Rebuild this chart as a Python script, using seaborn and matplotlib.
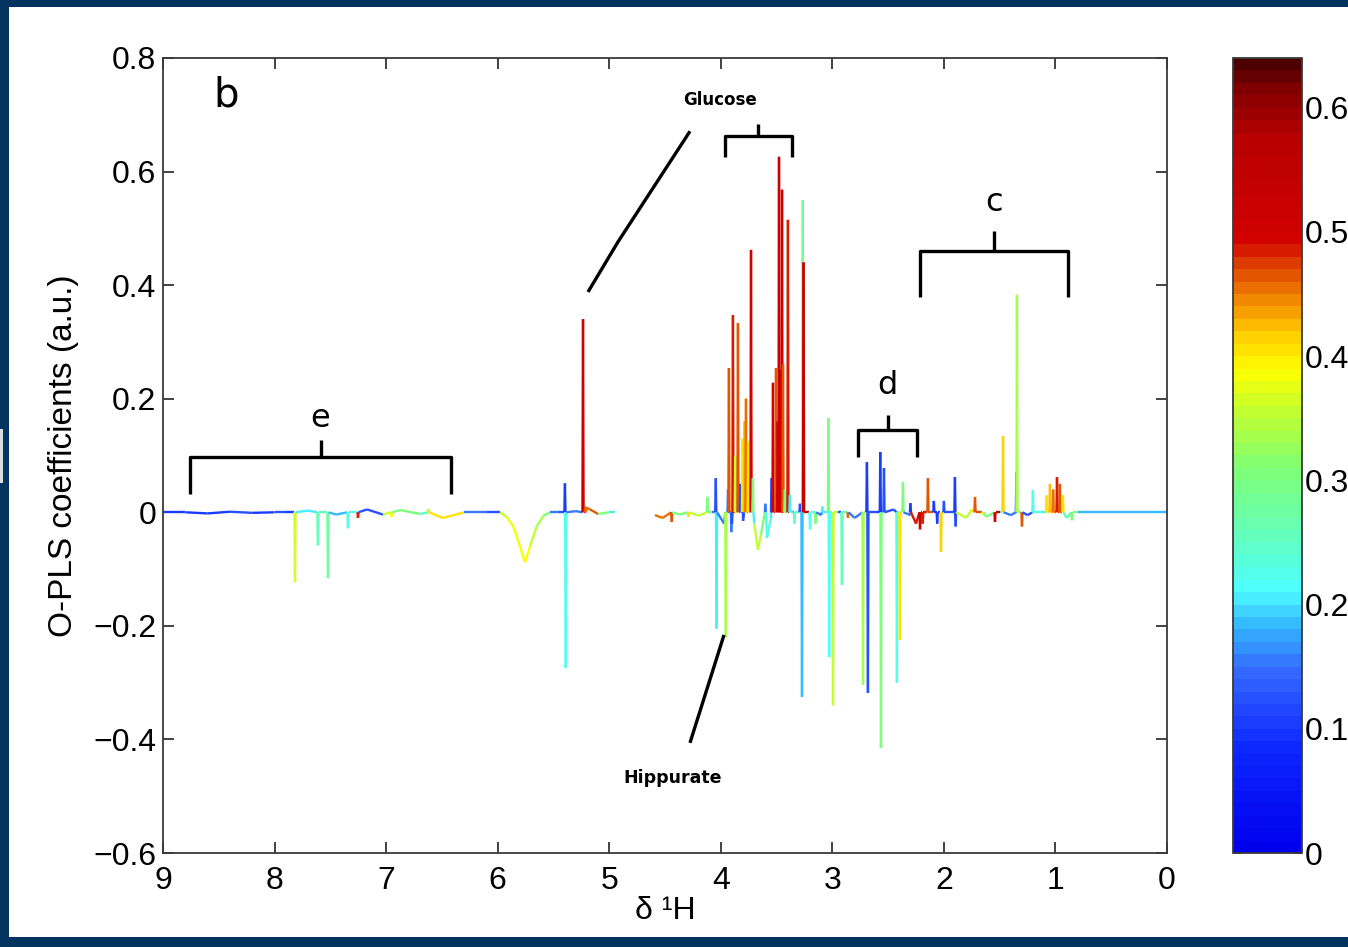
import numpy as np
import matplotlib.pyplot as plt
import seaborn as sns
from matplotlib.collections import LineCollection
from matplotlib.colors import LinearSegmentedColormap, ListedColormap, Normalize
from matplotlib.patches import Rectangle
import matplotlib.cm as cm

sns.set_theme(style="ticks")
plt.rcParams['font.family'] = ['Liberation Sans', 'DejaVu Sans']
plt.rcParams['axes.unicode_minus'] = True
for k in ['text.color', 'axes.labelcolor', 'xtick.color', 'ytick.color']:
    plt.rcParams[k] = 'black'

# spectral windows that were kept (water region cut out)
region_hi = [9.0, 4.59]
region_lo = [4.95, 0.0]

# baseline and broad features: ppm, coefficient, colour value (r2)
base_ppm = [9.00, 8.80, 8.60, 8.40, 8.20, 8.00, 7.90, 7.70, 7.45, 7.171, 7.028, 6.876, 6.70, 6.49,
            6.30, 6.10, 5.98, 5.92, 5.86, 5.80, 5.755, 5.71, 5.65, 5.59, 5.53, 5.45, 5.30, 5.20,
            5.172, 5.10, 5.00, 4.95,
            4.59, 4.52, 4.37, 4.20, 4.08, 3.97, 3.90, 3.80, 3.70, 3.667, 3.64, 3.586, 3.55,
            3.496, 3.35, 3.10, 2.95, 2.80, 2.60, 2.45, 2.30, 2.25, 2.10, 1.95, 1.80, 1.75, 1.62,
            1.50, 1.40, 1.25, 1.12, 0.90, 0.80, 0.50, 0.00]
base_coef = [0.000, 0.000, -0.002, 0.001, -0.001, 0.000, 0.000, 0.003, -0.004, 0.005, -0.004, 0.004,
             -0.003, -0.010, 0.000, 0.000, 0.000, -0.008, -0.025, -0.060, -0.088, -0.060, -0.025,
             -0.006, 0.000, 0.000, 0.002, 0.008, 0.005, -0.003, 0.000, 0.000,
             -0.005, -0.010, -0.004, -0.006, 0.000, -0.020, -0.020, -0.015, -0.020, -0.066,
             -0.040, -0.045, -0.010, 0.000, 0.000, -0.005, 0.000, -0.010, 0.000, 0.005, -0.005,
             -0.020, 0.000, 0.000, -0.010, 0.005, -0.008, 0.000, -0.005, -0.005, 0.000, -0.010,
             0.000, 0.000, 0.000]
base_r2 = [0.10, 0.12, 0.10, 0.12, 0.10, 0.12, 0.10, 0.20, 0.18, 0.12, 0.35, 0.30, 0.25, 0.40,
           0.15, 0.12, 0.30, 0.35, 0.37, 0.38, 0.38, 0.35, 0.33, 0.30, 0.15, 0.12, 0.15, 0.45,
           0.46, 0.30, 0.20, 0.20,
           0.35, 0.45, 0.30, 0.35, 0.15, 0.15, 0.12, 0.12, 0.20, 0.35, 0.30, 0.22, 0.20,
           0.15, 0.15, 0.15, 0.12, 0.15, 0.10, 0.12, 0.15, 0.48, 0.12, 0.12, 0.35, 0.40, 0.30,
           0.20, 0.15, 0.12, 0.20, 0.25, 0.18, 0.18, 0.18]

# narrow resonances: ppm, coefficient, colour value (r2)
peak_ppm = [7.817, 7.611, 7.521, 7.342, 7.252, 6.95, 6.62, 5.397, 5.390, 5.235, 5.215,
            4.44, 4.29, 4.12, 4.045, 4.038, 3.955, 3.935, 3.927, 3.905, 3.891, 3.870, 3.846,
            3.825, 3.805, 3.786, 3.774, 3.755, 3.729, 3.712, 3.60, 3.545, 3.532, 3.505, 3.490,
            3.478, 3.462, 3.451, 3.442, 3.425, 3.398, 3.380, 3.340, 3.290, 3.272, 3.265, 3.258,
            3.20, 3.15, 3.090, 3.035, 3.028, 2.994, 2.914, 2.860, 2.725, 2.690, 2.681, 2.570,
            2.564, 2.537, 2.421, 2.394, 2.367, 2.300, 2.214, 2.190, 2.143, 2.090, 2.060, 2.026,
            2.000, 1.901, 1.895, 1.721, 1.650, 1.542, 1.470, 1.350, 1.345, 1.300, 1.202, 1.080,
            1.049, 1.020, 0.986, 0.960, 0.933, 0.852]
peak_coef = [-0.123, -0.058, -0.116, -0.028, -0.010, -0.008, 0.006, 0.051, -0.274, 0.340, 0.010,
             -0.017, -0.008, 0.027, 0.060, -0.205, -0.220, 0.040, 0.254, -0.035, 0.347, 0.100,
             0.333, 0.050, 0.130, 0.160, 0.200, 0.125, 0.462, 0.060, 0.015, 0.060, 0.228, 0.254,
             0.160, 0.626, 0.250, 0.568, 0.260, 0.040, 0.515, 0.030, -0.020, 0.015, -0.325, 0.550,
             0.440, -0.030, -0.020, 0.010, 0.166, -0.255, -0.340, -0.128, -0.010, -0.304, 0.088,
             -0.318, 0.106, -0.415, 0.078, -0.300, -0.225, 0.053, 0.016, -0.030, -0.020, 0.060,
             0.020, -0.020, -0.070, 0.020, 0.062, -0.025, 0.027, -0.005, -0.017, 0.134, 0.070,
             0.383, -0.025, 0.039, 0.030, 0.050, 0.040, 0.062, 0.050, 0.030, -0.014]
peak_r2 = [0.36, 0.25, 0.27, 0.22, 0.48, 0.38, 0.35, 0.10, 0.22, 0.50, 0.46,
           0.47, 0.40, 0.30, 0.12, 0.20, 0.33, 0.15, 0.46, 0.15, 0.48, 0.35, 0.47,
           0.12, 0.40, 0.42, 0.45, 0.40, 0.49, 0.30, 0.15, 0.12, 0.49, 0.46, 0.49,
           0.51, 0.49, 0.50, 0.46, 0.30, 0.48, 0.20, 0.25, 0.12, 0.18, 0.29, 0.52,
           0.22, 0.30, 0.20, 0.30, 0.21, 0.35, 0.25, 0.45, 0.33, 0.10, 0.12, 0.10,
           0.30, 0.12, 0.22, 0.40, 0.30, 0.10, 0.50, 0.48, 0.46, 0.10, 0.10, 0.41,
           0.12, 0.10, 0.12, 0.46, 0.38, 0.50, 0.41, 0.12, 0.33, 0.47, 0.22, 0.40,
           0.42, 0.45, 0.48, 0.46, 0.40, 0.30]

x_ticks = [9, 8, 7, 6, 5, 4, 3, 2, 1, 0]
y_ticks = [-0.6, -0.4, -0.2, 0.0, 0.2, 0.4, 0.6, 0.8]
cbar_ticks = [0, 0.1, 0.2, 0.3, 0.4, 0.5, 0.6]
r2_max = 0.64

# colour scale as seen on the colour bar (value, colour)
cscale = [(0.00, (0.00, 0.00, 0.93)), (0.08, (0.05, 0.15, 1.00)), (0.14, (0.20, 0.40, 1.00)),
          (0.18, (0.20, 0.70, 1.00)), (0.21, (0.30, 1.00, 1.00)), (0.26, (0.40, 1.00, 0.70)),
          (0.31, (0.50, 1.00, 0.45)), (0.355, (0.75, 1.00, 0.20)), (0.39, (1.00, 1.00, 0.00)),
          (0.42, (1.00, 0.80, 0.00)), (0.445, (0.95, 0.55, 0.00)), (0.47, (0.88, 0.30, 0.00)),
          (0.50, (0.82, 0.00, 0.00)), (0.58, (0.72, 0.00, 0.00)), (0.62, (0.50, 0.00, 0.00)),
          (0.64, (0.30, 0.00, 0.00))]


def fmt(v):
    if abs(v) < 1e-9:
        return '0'
    s = ('%.1f' % v).lstrip('-')
    return ('\u2212' + s) if v < 0 else s


def build_trace(hi, lo, half_w=0.005):
    events = []
    for p, c, r in zip(base_ppm, base_coef, base_r2):
        if lo <= p <= hi:
            events.append((p, [(p, c, r)]))
    for p, c, r in zip(peak_ppm, peak_coef, peak_r2):
        if lo <= p <= hi:
            events.append((p, [(p + half_w, 0.0, r), (p, c, r), (p - half_w, 0.0, r)]))
    events.sort(key=lambda e: -e[0])
    return np.array([q for _, grp in events for q in grp])


fig = plt.figure(figsize=(13.48, 9.47), dpi=100, facecolor='#03335f')
fig.patches.append(Rectangle((9 / 1348, 10 / 947), 1, 930 / 947, transform=fig.transFigure,
                             facecolor='white', edgecolor='none', zorder=-1))
fig.patches.append(Rectangle((0, 464 / 947), 3 / 1348, 54 / 947, transform=fig.transFigure,
                             facecolor='#d8dde4', edgecolor='none', zorder=-1))

ax = fig.add_axes([163 / 1348, 94 / 947, 1004 / 1348, 795 / 947])
cax = fig.add_axes([1233 / 1348, 94 / 947, 69 / 1348, 795 / 947])
ax.set_facecolor('white')

smooth = LinearSegmentedColormap.from_list('r2', [(v / r2_max, c) for v, c in cscale])
cmap = ListedColormap(sns.color_palette(smooth(np.linspace(0, 1, 64))))
norm = Normalize(0, r2_max)

segs, vals = [], []
for hi, lo in zip(region_hi, region_lo):
    tr = build_trace(hi, lo)
    for a, b in zip(tr[:-1], tr[1:]):
        segs.append([(a[0], a[1]), (b[0], b[1])])
        vals.append(a[2] if abs(a[1]) >= abs(b[1]) else b[2])
lc = LineCollection(segs, cmap=cmap, norm=norm, linewidths=1.7)
lc.set_array(np.array(vals))
ax.add_collection(lc)

ax.set_xlim(9, 0)
ax.set_ylim(-0.6, 0.8)
ax.set_xticks(x_ticks)
ax.set_xticklabels([str(t) for t in x_ticks])
ax.set_yticks(y_ticks)
ax.set_yticklabels([fmt(t) for t in y_ticks])
ax.tick_params(axis='both', which='both', direction='in', length=8, width=1.2, color='#222222',
               top=True, right=True, labelsize=23)
ax.tick_params(axis='x', pad=9)
ax.tick_params(axis='y', pad=5)
for s in ax.spines.values():
    s.set_color('#3a3a3a')
    s.set_linewidth(1.3)
ax.set_xlabel('\u03b4 \u00b9H', fontsize=23, labelpad=0)
ax.set_ylabel('O-PLS coefficients (a.u.)', fontsize=24, labelpad=10)

# colour bar
cb = fig.colorbar(cm.ScalarMappable(norm=norm, cmap=cmap), cax=cax)
cb.set_ticks(cbar_ticks)
cb.set_ticklabels([fmt(t) for t in cbar_ticks])
cax.tick_params(direction='in', length=6, width=1.2, color='#222222', left=True, right=True,
                labelsize=23, pad=2)
cb.outline.set_edgecolor('#3a3a3a')
cb.outline.set_linewidth(1.3)

# annotations
kw = dict(color='black', lw=2.4, solid_capstyle='butt', clip_on=False)


def bracket(x0, x1, ytop, ybot, ystem, label, ylab):
    xm = (x0 + x1) / 2
    ax.plot([x0, x0, x1, x1], [ybot, ytop, ytop, ybot], **kw)
    ax.plot([xm, xm], [ytop, ystem], **kw)
    if label:
        ax.text(xm, ylab, label, fontsize=23, ha='center', va='center', family='DejaVu Sans')


bracket(8.758, 6.418, 0.097, 0.032, 0.127, 'e', 0.166)
bracket(2.77, 2.24, 0.145, 0.097, 0.171, 'd', 0.224)
bracket(2.214, 0.888, 0.460, 0.379, 0.495, 'c', 0.546)
bracket(3.962, 3.362, 0.663, 0.626, 0.684, None, None)

ax.plot([4.276, 4.922, 5.190], [0.671, 0.476, 0.388], **kw)
ax.plot([3.971, 4.276], [-0.216, -0.406], **kw)
ax.text(4.007, 0.726, 'Glucose', fontsize=12, fontweight='bold', ha='center', va='center',
        family='DejaVu Sans')
ax.text(4.428, -0.468, 'Hippurate', fontsize=12.5, fontweight='bold', ha='center', va='center',
        family='DejaVu Sans')
ax.text(0.05, 0.953, 'b', transform=ax.transAxes, fontsize=29, ha='left', va='center',
        family='DejaVu Sans')

fig.savefig('out.png', dpi=100, facecolor=fig.get_facecolor())
